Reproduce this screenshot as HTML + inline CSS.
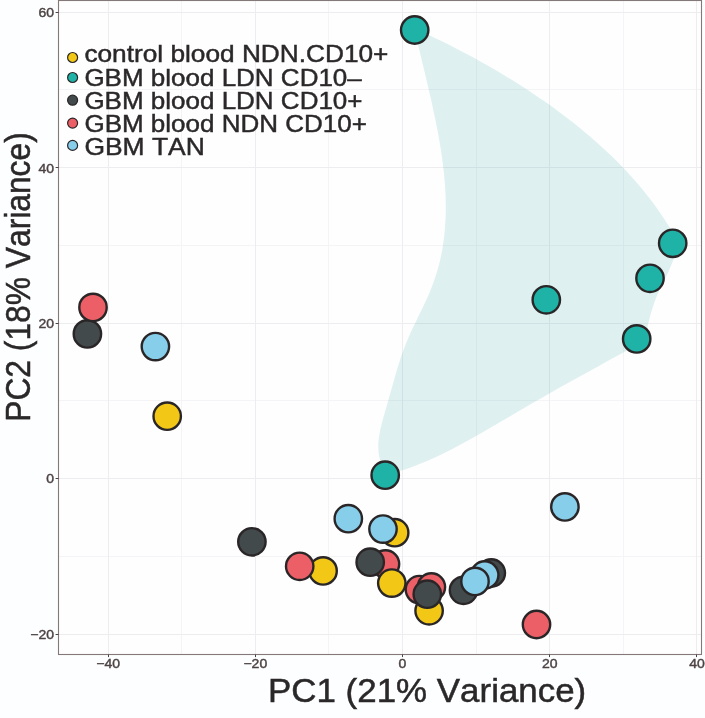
<!DOCTYPE html>
<html lang="en"><head><meta charset="utf-8"><title>PCA plot</title>
<style>
html,body{margin:0;padding:0;background:#fdfeff;}
svg{display:block;font-kerning:none;font-family:"Liberation Sans",sans-serif;}
.tick{font-size:12.6px;fill:#4c4242;stroke:#4c4242;stroke-width:0.4px;}
.leg{font-size:24.3px;fill:#2b2829;stroke:#2b2829;stroke-width:0.45px;}
.ttl{font-size:33.8px;fill:#2b2829;stroke:#2b2829;stroke-width:0.5px;}
</style></head><body>
<svg width="705" height="718" viewBox="0 0 705 718">
<rect x="0" y="0" width="705" height="718" fill="#fdfeff"/>
<rect x="58.5" y="0.5" width="643.0" height="654.0" fill="#fefeff"/>

<g stroke="#f4f4f7" stroke-width="1">
<line x1="181.5" y1="0.5" x2="181.5" y2="654.5"/>
<line x1="328.5" y1="0.5" x2="328.5" y2="654.5"/>
<line x1="476.5" y1="0.5" x2="476.5" y2="654.5"/>
<line x1="623.5" y1="0.5" x2="623.5" y2="654.5"/>
<line x1="58.5" y1="556.5" x2="701.5" y2="556.5"/>
<line x1="58.5" y1="400.5" x2="701.5" y2="400.5"/>
<line x1="58.5" y1="245.5" x2="701.5" y2="245.5"/>
<line x1="58.5" y1="89.5" x2="701.5" y2="89.5"/>
</g><g stroke="#ededf0" stroke-width="1">
<line x1="108.5" y1="0.5" x2="108.5" y2="654.5"/>
<line x1="255.5" y1="0.5" x2="255.5" y2="654.5"/>
<line x1="402.5" y1="0.5" x2="402.5" y2="654.5"/>
<line x1="549.5" y1="0.5" x2="549.5" y2="654.5"/>
<line x1="696.5" y1="0.5" x2="696.5" y2="654.5"/>
<line x1="58.5" y1="634.5" x2="701.5" y2="634.5"/>
<line x1="58.5" y1="478.5" x2="701.5" y2="478.5"/>
<line x1="58.5" y1="323.5" x2="701.5" y2="323.5"/>
<line x1="58.5" y1="167.5" x2="701.5" y2="167.5"/>
<line x1="58.5" y1="12.5" x2="701.5" y2="12.5"/>
</g>
<path d="M415.6,28.9 C417.4,27.6 424.4,32.9 428.8,35.0 C433.2,37.1 437.6,39.2 442.0,41.3 C446.4,43.5 450.7,45.7 455.1,47.9 C459.5,50.2 463.9,52.5 468.2,54.8 C472.6,57.1 476.9,59.5 481.2,61.9 C485.5,64.3 489.8,66.7 494.1,69.2 C498.4,71.7 502.7,74.3 506.9,76.9 C511.2,79.5 515.4,82.1 519.6,84.8 C523.8,87.4 527.9,90.2 532.1,92.9 C536.2,95.7 540.3,98.5 544.4,101.3 C548.5,104.2 552.5,107.1 556.5,110.0 C560.5,113.0 564.5,116.0 568.4,119.0 C572.4,122.0 576.3,125.1 580.1,128.3 C583.9,131.4 587.7,134.6 591.5,137.8 C595.2,141.0 598.9,144.3 602.6,147.7 C606.2,151.0 609.8,154.4 613.4,157.8 C616.9,161.3 620.3,164.8 623.7,168.3 C627.1,171.9 630.5,175.5 633.7,179.2 C637.0,182.9 640.2,186.6 643.3,190.5 C646.4,194.3 649.4,198.1 652.4,202.1 C655.3,206.0 658.2,210.0 660.9,214.1 C663.7,218.2 666.4,222.2 669.0,226.6 C671.5,230.9 675.1,236.0 676.1,240.1 C677.2,244.2 676.1,247.5 675.5,251.1 C674.9,254.6 673.9,258.1 672.7,261.6 C671.5,265.0 669.9,268.4 668.4,271.8 C666.8,275.2 665.1,278.6 663.4,282.0 C661.7,285.4 660.0,288.7 658.5,292.2 C656.9,295.6 655.5,299.1 654.3,302.6 C653.0,306.2 652.0,309.8 650.9,313.3 C649.9,316.9 649.0,320.5 648.0,324.2 C647.1,327.8 647.9,331.4 645.3,335.3 C642.6,339.2 636.9,343.8 631.9,347.4 C626.9,351.0 620.9,353.6 615.4,356.7 C609.9,359.8 604.4,362.8 598.9,365.9 C593.4,368.9 588.0,371.9 582.5,375.0 C577.0,378.0 571.6,381.1 566.1,384.1 C560.7,387.2 555.2,390.2 549.8,393.3 C544.4,396.4 538.9,399.5 533.5,402.6 C528.1,405.7 522.7,408.8 517.3,412.0 C511.9,415.1 506.5,418.3 501.0,421.5 C495.6,424.7 490.2,427.9 484.8,431.0 C479.3,434.2 473.9,437.3 468.4,440.3 C462.9,443.4 457.4,446.3 451.8,449.2 C446.2,452.0 440.6,454.8 434.9,457.4 C429.3,460.0 423.6,462.5 417.7,464.8 C411.9,467.0 405.3,469.9 400.0,470.8 C394.8,471.6 389.6,471.7 386.3,469.9 C383.0,468.0 381.4,463.4 380.0,459.5 C378.7,455.7 378.4,451.1 378.3,446.7 C378.2,442.4 378.8,437.9 379.6,433.4 C380.3,428.9 381.5,424.4 382.7,419.9 C383.9,415.4 385.3,410.9 386.6,406.4 C387.8,402.0 389.1,397.6 390.3,393.3 C391.5,389.0 392.7,384.7 393.9,380.4 C395.1,376.2 396.3,372.0 397.6,367.8 C398.9,363.6 400.2,359.5 401.6,355.3 C403.0,351.2 404.6,347.1 406.2,343.0 C407.9,338.8 409.7,334.7 411.6,330.6 C413.5,326.5 415.6,322.3 417.5,318.2 C419.5,314.0 421.6,309.9 423.6,305.7 C425.5,301.6 427.5,297.4 429.3,293.2 C431.1,289.0 432.7,284.7 434.2,280.5 C435.7,276.2 437.0,271.9 438.2,267.7 C439.4,263.4 440.4,259.0 441.3,254.7 C442.2,250.4 442.9,246.0 443.5,241.6 C444.1,237.3 444.6,232.9 444.9,228.5 C445.3,224.1 445.5,219.7 445.7,215.3 C445.8,210.8 445.8,206.4 445.7,202.0 C445.7,197.5 445.5,193.1 445.2,188.6 C445.0,184.2 444.6,179.7 444.2,175.3 C443.7,170.8 443.2,166.3 442.6,161.9 C442.1,157.4 441.4,152.9 440.7,148.5 C440.0,144.0 439.2,139.5 438.4,135.1 C437.6,130.6 436.7,126.2 435.8,121.7 C434.9,117.3 434.0,112.8 433.0,108.4 C432.1,104.0 431.1,99.6 430.0,95.2 C429.0,90.8 428.0,86.4 427.0,82.0 C426.0,77.6 424.9,73.2 423.9,68.9 C422.8,64.5 421.8,60.2 420.8,55.9 C419.8,51.6 418.7,47.5 417.8,43.0 C416.9,38.5 413.7,30.2 415.6,28.9Z" fill="#29a194" fill-opacity="0.15" stroke="none"/>
<g stroke="#2a2627" stroke-width="2.4">
<circle cx="87.4" cy="333.9" r="13.7" fill="#434a4c"/>
<circle cx="93.0" cy="307.4" r="13.7" fill="#ec5f66"/>
<circle cx="155.4" cy="346.6" r="13.7" fill="#87ceeb"/>
<circle cx="167.2" cy="416.2" r="13.7" fill="#f2c716"/>
<circle cx="414.7" cy="30.0" r="13.7" fill="#1fb2a6"/>
<circle cx="672.7" cy="243.3" r="13.7" fill="#1fb2a6"/>
<circle cx="650.0" cy="278.3" r="13.7" fill="#1fb2a6"/>
<circle cx="636.7" cy="338.9" r="13.7" fill="#1fb2a6"/>
<circle cx="546.3" cy="299.8" r="13.7" fill="#1fb2a6"/>
<circle cx="385.2" cy="475.2" r="13.7" fill="#1fb2a6"/>
<circle cx="251.9" cy="541.8" r="13.7" fill="#434a4c"/>
<circle cx="323.1" cy="570.9" r="13.7" fill="#f2c716"/>
<circle cx="299.7" cy="566.3" r="13.7" fill="#ec5f66"/>
<circle cx="348.3" cy="518.7" r="13.7" fill="#87ceeb"/>
<circle cx="394.7" cy="532.7" r="13.7" fill="#f2c716"/>
<circle cx="383.0" cy="529.1" r="13.7" fill="#87ceeb"/>
<circle cx="385.5" cy="564.0" r="13.7" fill="#ec5f66"/>
<circle cx="370.2" cy="562.2" r="13.7" fill="#434a4c"/>
<circle cx="391.8" cy="583.1" r="13.7" fill="#f2c716"/>
<circle cx="419.4" cy="589.6" r="13.7" fill="#ec5f66"/>
<circle cx="431.4" cy="587.0" r="13.7" fill="#ec5f66"/>
<circle cx="429.1" cy="610.8" r="13.7" fill="#f2c716"/>
<circle cx="427.3" cy="594.2" r="13.7" fill="#434a4c"/>
<circle cx="491.3" cy="573.0" r="13.7" fill="#434a4c"/>
<circle cx="484.7" cy="575.0" r="13.7" fill="#87ceeb"/>
<circle cx="463.5" cy="590.3" r="13.7" fill="#434a4c"/>
<circle cx="475.0" cy="581.4" r="13.7" fill="#87ceeb"/>
<circle cx="564.9" cy="506.9" r="13.7" fill="#87ceeb"/>
<circle cx="536.5" cy="624.5" r="13.7" fill="#ec5f66"/>
</g>
<rect x="58.5" y="0.5" width="643.0" height="654.0" fill="none" stroke="#857878" stroke-width="1.1"/>
<g stroke="#4c4242" stroke-width="1">
<line x1="108.5" y1="654.5" x2="108.5" y2="657.1"/>
<line x1="255.5" y1="654.5" x2="255.5" y2="657.1"/>
<line x1="402.5" y1="654.5" x2="402.5" y2="657.1"/>
<line x1="549.5" y1="654.5" x2="549.5" y2="657.1"/>
<line x1="696.5" y1="654.5" x2="696.5" y2="657.1"/>
<line x1="55.6" y1="634.5" x2="58.5" y2="634.5"/>
<line x1="55.6" y1="478.5" x2="58.5" y2="478.5"/>
<line x1="55.6" y1="323.5" x2="58.5" y2="323.5"/>
<line x1="55.6" y1="167.5" x2="58.5" y2="167.5"/>
<line x1="55.6" y1="12.5" x2="58.5" y2="12.5"/>
</g>
<text class="tick" text-anchor="middle" transform="translate(108.1,668.0) scale(1.11,1)">−40</text>
<text class="tick" text-anchor="middle" transform="translate(255.3,668.0) scale(1.11,1)">−20</text>
<text class="tick" text-anchor="middle" transform="translate(402.5,668.0) scale(1.11,1)">0</text>
<text class="tick" text-anchor="middle" transform="translate(549.7,668.0) scale(1.11,1)">20</text>
<text class="tick" text-anchor="middle" transform="translate(696.9,668.0) scale(1.11,1)">40</text>
<text class="tick" text-anchor="end" transform="translate(54.0,638.9) scale(1.11,1)">−20</text>
<text class="tick" text-anchor="end" transform="translate(54.0,483.4) scale(1.11,1)">0</text>
<text class="tick" text-anchor="end" transform="translate(54.0,328.0) scale(1.11,1)">20</text>
<text class="tick" text-anchor="end" transform="translate(54.0,172.5) scale(1.11,1)">40</text>
<text class="tick" text-anchor="end" transform="translate(54.0,17.0) scale(1.11,1)">60</text>
<circle cx="72.6" cy="57.5" r="5.0" fill="#f2c716" stroke="#2a2627" stroke-width="1.2"/>
<text class="leg" transform="translate(84.4,61.7) scale(1.08,1)">control blood NDN.CD10+</text>
<circle cx="72.6" cy="77.5" r="5.0" fill="#1fb2a6" stroke="#2a2627" stroke-width="1.2"/>
<text class="leg" transform="translate(84.4,85.5) scale(1.07,1)">GBM blood LDN CD10–</text>
<circle cx="72.6" cy="100.2" r="5.0" fill="#434a4c" stroke="#2a2627" stroke-width="1.2"/>
<text class="leg" transform="translate(84.4,108.6) scale(1.07,1)">GBM blood LDN CD10+</text>
<circle cx="72.6" cy="123.1" r="5.0" fill="#ec5f66" stroke="#2a2627" stroke-width="1.2"/>
<text class="leg" transform="translate(84.4,131.8) scale(1.071,1)">GBM blood NDN CD10+</text>
<circle cx="72.6" cy="145.4" r="5.0" fill="#87ceeb" stroke="#2a2627" stroke-width="1.2"/>
<text class="leg" transform="translate(84.4,155.3) scale(1.088,1)">GBM TAN</text>
<text class="ttl" transform="translate(268,702) scale(1.033,1)">PC1 (21% Variance)</text>
<text class="ttl" transform="translate(30.3,421.8) rotate(-90) scale(0.94,1.035)">PC2 (18% Variance)</text>
</svg></body></html>
